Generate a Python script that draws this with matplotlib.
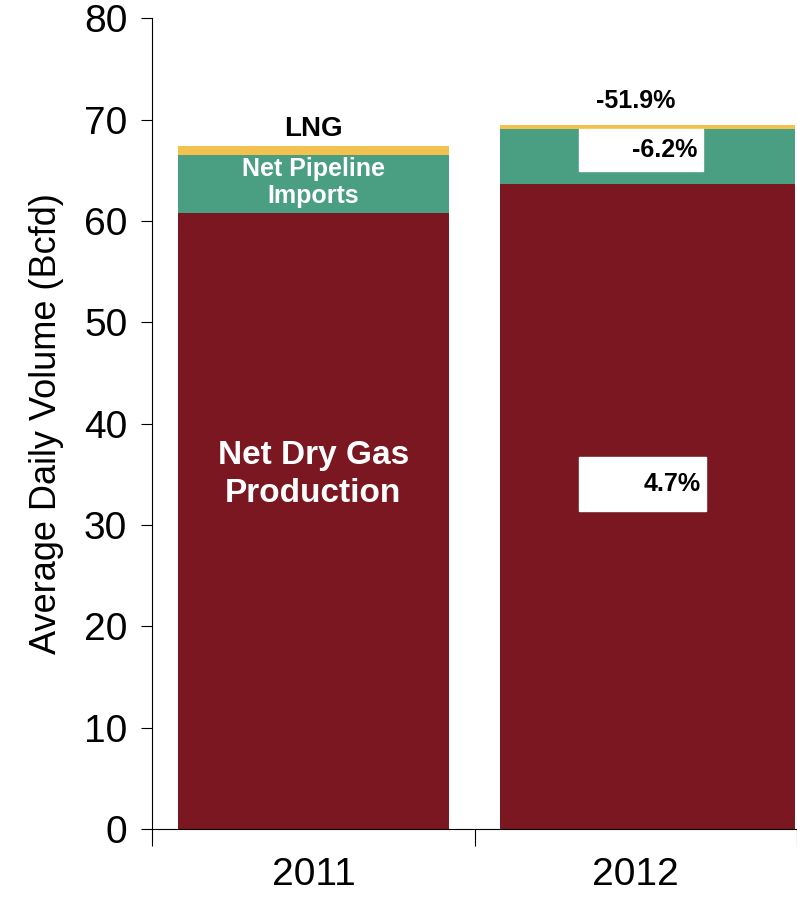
import numpy as np
import matplotlib.pyplot as plt
from matplotlib.patches import Rectangle

plt.rcParams['font.family'] = ['Liberation Sans', 'DejaVu Sans']

years = ['2011', '2012']
production = [60.8, 63.6]
pipeline = [5.7, 5.5]
lng = [0.9, 0.4]
changes = ['4.7%', '-6.2%', '-51.9%']

c_prod = '#7B1721'
c_pipe = '#4A9E82'
c_lng = '#F2C14E'

fig = plt.figure(figsize=(7.97, 9.14), dpi=100)
ax = fig.add_axes([0.191, 0.093, 0.809, 0.887])

left = np.array([0.08, 1.08])
width = np.array([0.84, 0.915])
prod = np.array(production)
pipe = np.array(pipeline)
ax.bar(left, prod, width, align='edge', color=c_prod)
ax.bar(left, pipe, width, bottom=prod, align='edge', color=c_pipe)
ax.bar(left, lng, width, bottom=prod + pipe, align='edge', color=c_lng)

ax.set_xlim(0, 2)
ax.set_ylim(0, 80)
ax.set_yticks(range(0, 81, 10))
ax.set_xticks([0, 1, 2])
ax.set_xticklabels([])
ax.set_xticks([0.5, 1.5], minor=True)
ax.set_xticklabels(years, minor=True, fontsize=28)
ax.tick_params(axis='x', which='minor', length=0, pad=20)
ax.tick_params(axis='x', which='major', length=12, direction='out')
ax.tick_params(axis='y', labelsize=28, length=8, pad=10)
ax.spines['top'].set_visible(False)
ax.spines['right'].set_visible(False)
ax.set_ylabel('Average Daily Volume (Bcfd)', fontsize=26, labelpad=14)

# 2011 labels
ax.text(0.5, 35, 'Net Dry Gas\nProduction', color='white', fontsize=24, fontweight='bold',
        ha='center', va='center', linespacing=1.3)
ax.text(0.5, 63.8, 'Net Pipeline\nImports', color='white', fontsize=18, fontweight='bold',
        ha='center', va='center', linespacing=1.2)
ax.text(0.5, 69.1, 'LNG', color='black', fontsize=20, fontweight='bold', ha='center', va='center')

# 2012 change boxes
ax.add_patch(Rectangle((1.323, 31.4), 0.394, 5.3, color='white'))
ax.text(1.70, 34.0, changes[0], fontsize=18, fontweight='bold', ha='right', va='center')
ax.add_patch(Rectangle((1.323, 64.9), 0.384, 4.2, color='white'))
ax.text(1.69, 67.0, changes[1], fontsize=18, fontweight='bold', ha='right', va='center')
ax.text(1.5, 71.8, changes[2], fontsize=18, fontweight='bold', ha='center', va='center')

fig.savefig('out.png', dpi=100)
